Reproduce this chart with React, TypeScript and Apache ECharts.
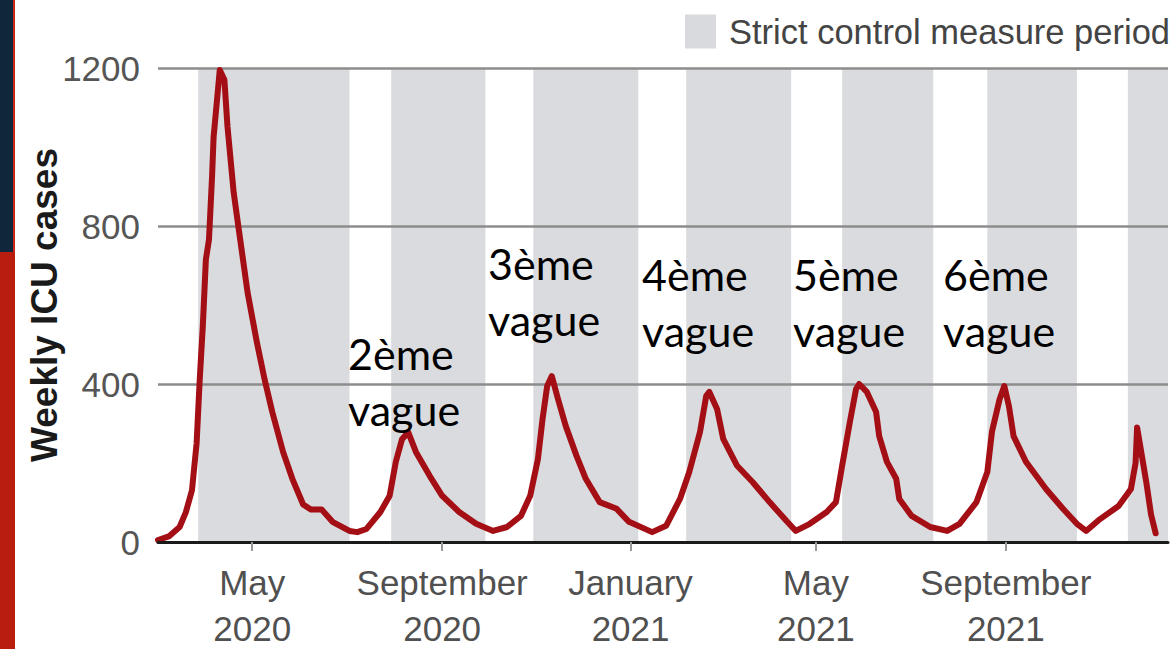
import React, { useEffect, useRef } from "react";
import * as echarts from "echarts";

const dates = [
  "2020-03-01", "2020-03-08", "2020-03-15", "2020-03-19", "2020-03-23", "2020-03-26", "2020-03-28", "2020-03-30",
  "2020-04-01", "2020-04-03", "2020-04-05", "2020-04-06", "2020-04-08", "2020-04-10", "2020-04-13", "2020-04-15",
  "2020-04-19", "2020-04-22", "2020-04-28", "2020-05-04", "2020-05-09", "2020-05-14", "2020-05-21", "2020-05-27",
  "2020-06-03", "2020-06-08", "2020-06-15", "2020-06-22", "2020-07-03", "2020-07-08", "2020-07-14", "2020-07-23",
  "2020-07-29", "2020-08-02", "2020-08-06", "2020-08-10", "2020-08-15", "2020-08-24", "2020-09-01", "2020-09-12",
  "2020-09-23", "2020-10-04", "2020-10-13", "2020-10-22", "2020-10-28", "2020-11-02", "2020-11-05", "2020-11-08",
  "2020-11-11", "2020-11-15", "2020-11-20", "2020-11-27", "2020-12-03", "2020-12-12", "2020-12-23", "2020-12-31",
  "2021-01-15", "2021-01-24", "2021-02-02", "2021-02-08", "2021-02-15", "2021-02-19", "2021-02-21", "2021-02-26",
  "2021-03-02", "2021-03-11", "2021-03-21", "2021-04-01", "2021-04-12", "2021-04-18", "2021-04-27", "2021-05-08",
  "2021-05-14", "2021-05-18", "2021-05-23", "2021-05-27", "2021-05-29", "2021-06-03", "2021-06-09", "2021-06-11",
  "2021-06-16", "2021-06-22", "2021-06-24", "2021-07-02", "2021-07-14", "2021-07-25", "2021-08-02", "2021-08-13",
  "2021-08-20", "2021-08-23", "2021-08-28", "2021-08-31", "2021-09-03", "2021-09-06", "2021-09-14", "2021-09-27",
  "2021-10-08", "2021-10-17", "2021-10-23", "2021-11-01", "2021-11-13", "2021-11-21", "2021-11-24", "2021-11-25",
  "2021-11-28", "2021-12-01", "2021-12-04", "2021-12-07",
];

const icuCases = [
  5, 14, 38, 75, 131, 250, 410, 545,
  715, 765, 925, 1025, 1110, 1195, 1170, 1052,
  885, 800, 632, 506, 412, 329, 228, 160,
  95, 82, 82, 51, 28, 25, 33, 76,
  117, 203, 260, 278, 228, 167, 117, 76,
  46, 28, 38, 66, 117, 210, 311, 395,
  420, 362, 294, 218, 160, 101, 84, 51,
  25, 41, 109, 177, 279, 370, 380, 337,
  261, 193, 152, 101, 53, 28, 46, 76,
  101, 193, 304, 387, 400, 380, 329, 268,
  203, 160, 109, 66, 38, 28, 46, 101,
  177, 279, 362, 395, 344, 268, 203, 134,
  84, 46, 28, 58, 91, 134, 200, 290,
  220, 150, 70, 22,
];

const bandName = "Strict control measure period";
const bandStarts = ["2020-03-27", "2020-07-30", "2020-10-30", "2021-02-06", "2021-05-18", "2021-08-20", "2021-11-19"];
const bandEnds = ["2020-07-03", "2020-09-29", "2021-01-06", "2021-04-15", "2021-07-16", "2021-10-17", "2021-12-15"];

const tickDates = ["2020-05-01", "2020-09-01", "2021-01-01", "2021-05-01", "2021-09-01"];
const tickLabels = ["May\n2020", "September\n2020", "January\n2021", "May\n2021", "September\n2021"];

const yTicks = { min: 0, max: 1200, interval: 400 };
const xRange = { min: "2020-03-01", max: "2021-12-15" };

const waveLabels = ["2ème\nvague", "3ème\nvague", "4ème\nvague", "5ème\nvague", "6ème\nvague"];

const ts = (s: string) => {
  const [y, m, d] = s.split("-").map(Number);
  return Date.UTC(y, m - 1, d);
};

const SANS = '"Liberation Sans", Arial, sans-serif';
const CAL = 'Lato, Carlito, Calibri, sans-serif';

export default function App() {
  const ref = useRef<HTMLDivElement>(null);
  useEffect(() => {
    if (!ref.current) return;
    const chart = echarts.init(ref.current, null, { renderer: "svg" });
    const tickTs = tickDates.map(ts);
    const wavePos = [
      [348, 381],
      [488, 291],
      [642, 302],
      [793, 302],
      [943, 302],
    ];
    chart.setOption({
      animation: false,
      backgroundColor: "#ffffff",
      grid: { left: 158, right: 7, top: 68, bottom: 107, containLabel: false, outerBoundsMode: "none" },
      legend: {
        left: 680,
        top: 9,
        itemWidth: 31,
        itemHeight: 34,
        selectedMode: false,
        data: [{ name: bandName, icon: "rect", itemStyle: { color: "#d9dadd" } }],
        textStyle: { fontSize: 34.5, color: "#444", fontFamily: SANS, padding: [0, 0, 0, 8] },
      },
      xAxis: {
        type: "value",
        min: ts(xRange.min),
        max: ts(xRange.max),
        z: 5,
        axisLine: { show: true, lineStyle: { color: "#1a1a1a", width: 3 } },
        axisTick: { show: true, customValues: tickTs, length: 9, lineStyle: { color: "#999", width: 2 } },
        axisLabel: {
          customValues: tickTs,
          formatter: (v: number) => {
            const i = tickTs.indexOf(v);
            return i >= 0 ? tickLabels[i] : "";
          },
          fontSize: 35,
          lineHeight: 46,
          color: "#505050",
          margin: 17,
          fontFamily: SANS,
        },
        splitLine: { show: false },
      },
      yAxis: {
        type: "value",
        min: yTicks.min,
        max: yTicks.max,
        interval: yTicks.interval,
        z: 3,
        name: "Weekly ICU cases",
        nameLocation: "middle",
        nameGap: 95,
        nameMoveOverlap: false,
        nameTextStyle: { fontSize: 37, fontWeight: "bold", color: "#1a1a1a", fontFamily: SANS },
        axisLine: { show: false },
        axisTick: { show: false },
        axisLabel: {
          fontSize: 35,
          color: "#555",
          margin: 18,
          fontFamily: SANS,
          formatter: (v: number) => String(v),
        },
        splitLine: { show: true, lineStyle: { color: "#8c8c8c", width: 2.5 } },
      },
      series: [
        {
          type: "line",
          name: bandName,
          data: [],
          z: 1,
          color: "#d9dadd",
          markArea: {
            silent: true,
            itemStyle: { color: "#dadbde" },
            data: bandStarts.map((s, i) => [{ xAxis: ts(s) }, { xAxis: ts(bandEnds[i]) }]),
          },
        },
        {
          type: "line",
          name: "Weekly ICU cases",
          data: dates.map((d, i) => [ts(d), icuCases[i]]),
          symbol: "none",
          z: 4,
          color: "#a30f14",
          lineStyle: { color: "#a30f14", width: 6, cap: "round", join: "round" },
        },
      ],
      graphic: [
        { type: "rect", shape: { x: 0, y: 0, width: 13, height: 252 }, style: { fill: "#10263a" }, z: 10 },
        { type: "rect", shape: { x: 13, y: 0, width: 2, height: 252 }, style: { fill: "#c8281a" }, z: 10 },
        { type: "rect", shape: { x: 0, y: 252, width: 15, height: 397 }, style: { fill: "#b91d10" }, z: 10 },
        ...waveLabels.map((t, i) => ({
          type: "text",
          x: wavePos[i][0],
          y: wavePos[i][1],
          z: 10,
          style: {
            text: t,
            fontSize: 43,
            lineHeight: 56,
            fontFamily: CAL,
            fill: "#000",
            align: "left",
            verticalAlign: "middle",
          },
        })),
      ],
    });
    return () => chart.dispose();
  }, []);
  return (
    <div
      ref={ref}
      style={{ position: "fixed", left: 0, top: 0, width: 1175, height: 649, background: "#fff" }}
    />
  );
}
